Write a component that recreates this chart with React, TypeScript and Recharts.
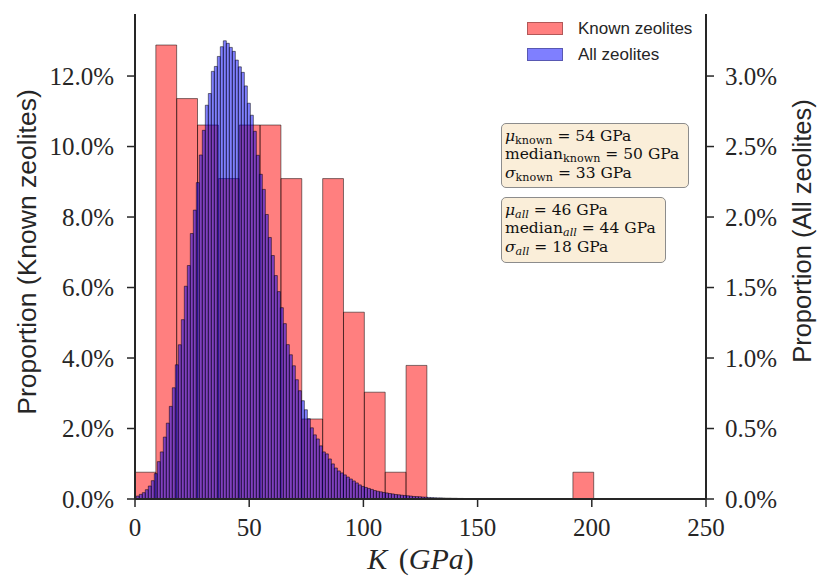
import React from 'react';
import { ComposedChart, Bar, XAxis, YAxis } from 'recharts';

// ---- data ----
const knownBinStart = 0;
const knownBinWidth = 9.13; // GPa
const knownPct = [
  0.76, 12.88, 11.36, 10.61, 9.09, 10.61, 10.61, 9.09, 2.27, 9.09, 5.3, 3.03,
  0.76, 3.79, 0, 0, 0, 0, 0, 0, 0, 0.76,
];

const allBinStart = 0.57;
const allBinWidth = 1.314; // GPa
const allPct = [
  0.021, 0.033, 0.045, 0.066, 0.092, 0.13, 0.18, 0.265, 0.334, 0.439, 0.538, 0.657,
  0.789, 0.952, 1.094, 1.272, 1.509, 1.656,
  1.883, 2.049, 2.244, 2.44, 2.615, 2.793, 2.876, 3.033, 3.068, 3.139, 3.208, 3.25,
  3.232, 3.203, 3.175, 3.113, 3.065, 3.026,
  2.93, 2.807, 2.722, 2.608, 2.438, 2.303, 2.196, 2.018, 1.855, 1.727, 1.585, 1.471,
  1.357, 1.244, 1.095,
  1.023, 0.945, 0.846, 0.768, 0.697, 0.633, 0.569, 0.505, 0.455, 0.426, 0.377, 0.334,
  0.32, 0.284, 0.249, 0.22, 0.199, 0.185, 0.171, 0.156, 0.142, 0.128, 0.114, 0.1,
  0.089, 0.082, 0.075, 0.068, 0.06, 0.055, 0.051, 0.046, 0.043, 0.039, 0.036, 0.032,
  0.03, 0.027, 0.025, 0.023, 0.021, 0.018, 0.017, 0.016, 0.014, 0.013, 0.011, 0.01,
  0.009, 0.008, 0.008, 0.007, 0.006, 0.006, 0.005, 0.005, 0.004, 0.004, 0.003, 0.003,
  0.003, 0.002, 0.002, 0.002, 0.002, 0.001, 0.001, 0.001,
];

const xTicks = [0, 50, 100, 150, 200, 250];
const leftTicks = [0, 2, 4, 6, 8, 10, 12];
const rightTicks = [0, 0.5, 1, 1.5, 2, 2.5, 3];
const xDomain: [number, number] = [0, 250];
const leftDomain: [number, number] = [0, 13.76];
const rightDomain: [number, number] = [0, 3.44];

const knownData = knownPct.map((v, i) => ({
  k: knownBinStart + knownBinWidth * (i + 0.5),
  known: v,
}));
const allData = allPct.map((v, i) => ({
  k: allBinStart + allBinWidth * (i + 0.5),
  all: v,
}));

// ---- layout / style ----
const W = 818;
const H = 579;
const margin = { top: 14, right: 42, bottom: 40, left: 65 };
const INK = '#262626';
const serif = '"Liberation Serif", "DejaVu Serif", serif';
const sans = '"Liberation Sans", "DejaVu Sans", sans-serif';

const pct = (v: number) => `${v.toFixed(1)}%`;

const LeftAxisLabel = () => {
  const x = 27;
  const y = 252;
  return (
    <text
      x={x}
      y={y}
      transform={`rotate(-90 ${x} ${y})`}
      textAnchor="middle"
      dominantBaseline="central"
      fontFamily={sans}
      fontSize={26.5}
      fill={INK}
    >
      Proportion (Known zeolites)
    </text>
  );
};

const RightAxisLabel = () => {
  const x = 802;
  const y = 231;
  return (
    <text
      x={x}
      y={y}
      transform={`rotate(-90 ${x} ${y})`}
      textAnchor="middle"
      dominantBaseline="central"
      fontFamily={sans}
      fontSize={25.5}
      fill={INK}
    >
      Proportion (All zeolites)
    </text>
  );
};

const XAxisLabel = (props: any) => {
  const vb = props.viewBox || { x: 135, width: 571, y: 499 };
  const cx = vb.x + vb.width / 2;
  return (
    <text x={cx} y={569} textAnchor="middle" fontFamily={serif} fontSize={30} fill={INK}>
      <tspan fontStyle="italic">K</tspan>
      <tspan dx={4}> (</tspan>
      <tspan fontStyle="italic">GPa</tspan>
      <tspan>)</tspan>
    </text>
  );
};

function renderAxes(visible: boolean) {
  const tickStyle = { fill: INK, fontSize: 25, fontFamily: serif };
  const lineStyle = { stroke: INK, strokeWidth: 2 };
  const tickLineStyle = { stroke: INK, strokeWidth: 1.5 };
  return [
    <XAxis
      key="x"
      type="number"
      dataKey="k"
      domain={xDomain}
      ticks={xTicks}
      interval={0}
      allowDataOverflow
      height={40}
      tickSize={8}
      tickMargin={11}
      tick={visible ? tickStyle : false}
      axisLine={visible ? lineStyle : false}
      tickLine={visible ? tickLineStyle : false}
      label={visible ? <XAxisLabel /> : undefined}
    />,
    <YAxis
      key="yl"
      yAxisId="left"
      orientation="left"
      type="number"
      domain={leftDomain}
      ticks={leftTicks}
      interval={0}
      allowDataOverflow
      width={70}
      tickSize={8}
      tickMargin={13}
      tickFormatter={pct}
      tick={visible ? tickStyle : false}
      axisLine={visible ? lineStyle : false}
      tickLine={visible ? tickLineStyle : false}
      label={visible ? <LeftAxisLabel /> : undefined}
    />,
    <YAxis
      key="yr"
      yAxisId="right"
      orientation="right"
      type="number"
      domain={rightDomain}
      ticks={rightTicks}
      interval={0}
      allowDataOverflow
      width={70}
      tickSize={8}
      tickMargin={11}
      tickFormatter={pct}
      tick={visible ? tickStyle : false}
      axisLine={visible ? lineStyle : false}
      tickLine={visible ? tickLineStyle : false}
      label={visible ? <RightAxisLabel /> : undefined}
    />,
  ];
}

const boxStyle: React.CSSProperties = {
  position: 'absolute',
  left: 501,
  background: '#faeed9',
  border: '1px solid #8c8c8c',
  borderRadius: 5,
  padding: '3px 4px 2px 3px',
  fontFamily: '"DejaVu Serif", serif',
  fontSize: 15.5,
  color: '#111',
  whiteSpace: 'nowrap',
  boxSizing: 'border-box',
};
const lineStyle: React.CSSProperties = { height: 18.3, lineHeight: '18.3px' };
const subStyle: React.CSSProperties = { fontSize: '72%', verticalAlign: '-0.25em', lineHeight: 0 };

const Sub = ({ children, italic }: { children: React.ReactNode; italic?: boolean }) => (
  <span style={{ ...subStyle, fontStyle: italic ? 'italic' : 'normal' }}>{children}</span>
);

const legendItems = [
  { label: 'Known zeolites', color: 'rgba(255,0,0,0.5)' },
  { label: 'All zeolites', color: 'rgba(0,0,255,0.5)' },
];

export default function App() {
  return (
    <div style={{ position: 'absolute', left: 0, top: 0, width: W, height: H, background: '#fff' }}>
      {/* Known zeolites (left axis) */}
      <div style={{ position: 'absolute', left: 0, top: 0 }}>
        <ComposedChart width={W} height={H} data={knownData} margin={margin} barCategoryGap={0} barGap={0}>
          {renderAxes(false)}
          <Bar
            dataKey="known"
            yAxisId="left"
            fill="#ff0000"
            fillOpacity={0.5}
            stroke="#000"
            strokeOpacity={0.5}
            strokeWidth={1}
            barSize={20.8}
            isAnimationActive={false}
          />
        </ComposedChart>
      </div>
      {/* All zeolites (right axis) + visible axes */}
      <div style={{ position: 'absolute', left: 0, top: 0 }}>
        <ComposedChart width={W} height={H} data={allData} margin={margin} barCategoryGap={0} barGap={0}>
          {renderAxes(true)}
          <Bar
            dataKey="all"
            yAxisId="right"
            fill="#0000ff"
            fillOpacity={0.5}
            stroke="#000"
            strokeOpacity={0.5}
            strokeWidth={1}
            isAnimationActive={false}
          />
        </ComposedChart>
      </div>

      {/* legend */}
      {legendItems.map((it, i) => (
        <div
          key={it.label}
          style={{ position: 'absolute', left: 527, top: 21 + i * 25.5, height: 15, display: 'flex', alignItems: 'center' }}
        >
          <div
            style={{
              width: 36,
              height: 13,
              background: it.color,
              border: '1px solid rgba(0,0,0,0.3)',
              boxSizing: 'border-box',
            }}
          />
          <span style={{ marginLeft: 15, fontFamily: sans, fontSize: 17, color: INK, lineHeight: '15px' }}>
            {it.label}
          </span>
        </div>
      ))}

      {/* stats boxes */}
      <div style={{ ...boxStyle, top: 123, width: 188, height: 65 }}>
        <div style={lineStyle}>
          <i>μ</i>
          <Sub>known</Sub> = 54 GPa
        </div>
        <div style={lineStyle}>
          median<Sub>known</Sub> = 50 GPa
        </div>
        <div style={lineStyle}>
          <i>σ</i>
          <Sub>known</Sub> = 33 GPa
        </div>
      </div>
      <div style={{ ...boxStyle, top: 197, width: 165, height: 66 }}>
        <div style={lineStyle}>
          <i>μ</i>
          <Sub italic>all</Sub> = 46 GPa
        </div>
        <div style={lineStyle}>
          median<Sub italic>all</Sub> = 44 GPa
        </div>
        <div style={lineStyle}>
          <i>σ</i>
          <Sub italic>all</Sub> = 18 GPa
        </div>
      </div>
    </div>
  );
}
